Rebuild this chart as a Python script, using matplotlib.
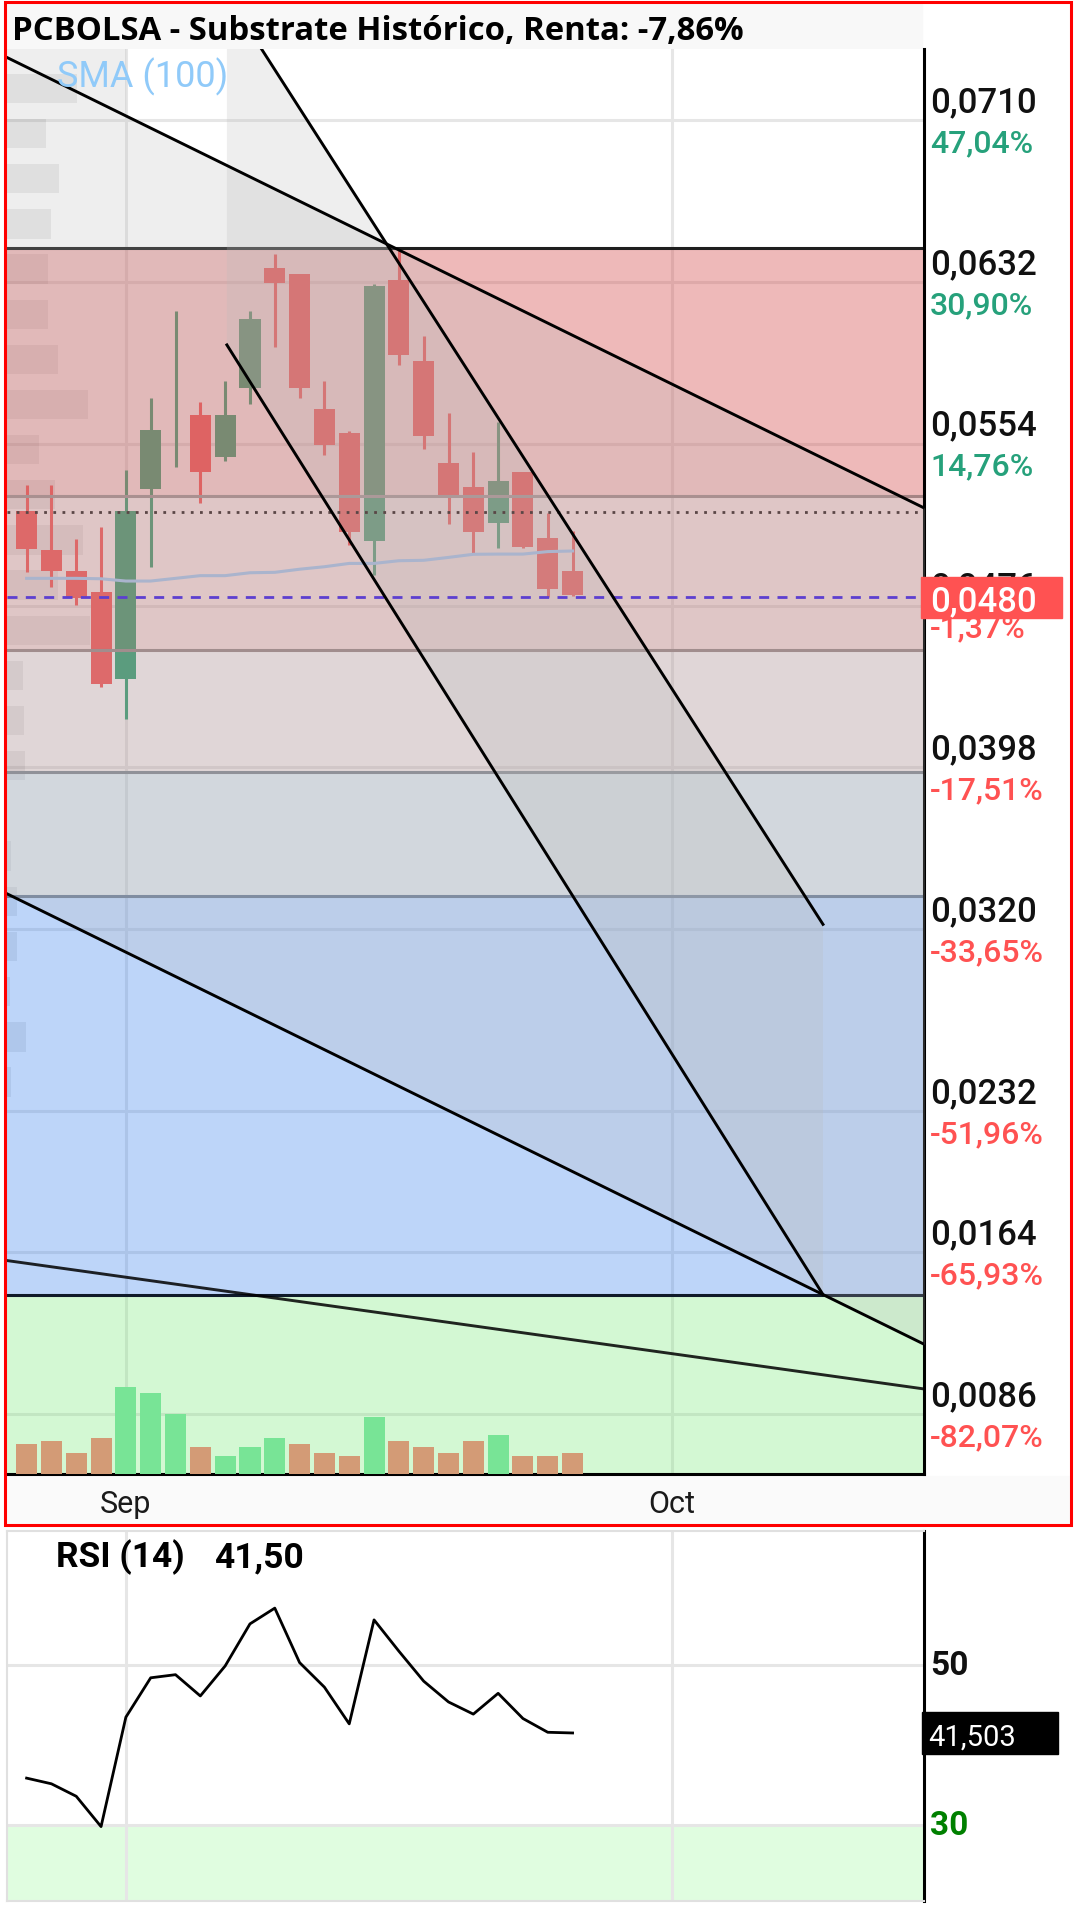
import matplotlib
matplotlib.use("Agg")
import matplotlib.pyplot as plt
import matplotlib.transforms as mtransforms
from matplotlib.patches import Rectangle
import numpy as np

W, H, DPI = 1076, 1907, 100

# ---------------- data ----------------
opens  = [0.05216, 0.05028, 0.04926, 0.04827, 0.04407, 0.05320, 0.05660, 0.05679,
          0.05478, 0.05811, 0.06390, 0.06361, 0.05708, 0.05592, 0.05073, 0.06330,
          0.05939, 0.05447, 0.05332, 0.05160, 0.05404, 0.05084, 0.04926]
highs  = [0.05341, 0.05341, 0.05079, 0.05140, 0.05414, 0.05759, 0.06181, 0.05743,
          0.05845, 0.06181, 0.06454, 0.06361, 0.05845, 0.05602, 0.06309, 0.06475,
          0.06062, 0.05687, 0.05499, 0.05644, 0.05404, 0.05208, 0.05119]
lows   = [0.04920, 0.04848, 0.04762, 0.04369, 0.04211, 0.04947, 0.05427, 0.05253,
          0.05457, 0.05730, 0.06005, 0.05759, 0.05484, 0.05052, 0.04907, 0.05920,
          0.05515, 0.05152, 0.05012, 0.05036, 0.05039, 0.04803, 0.04806]
closes = [0.05031, 0.04928, 0.04798, 0.04380, 0.05216, 0.05607, 0.05660, 0.05406,
          0.05679, 0.06142, 0.06317, 0.05811, 0.05534, 0.05116, 0.06301, 0.05968,
          0.05579, 0.05290, 0.05116, 0.05361, 0.05044, 0.04841, 0.04811]
volumes = [30, 33, 21, 36, 87, 81, 60, 27, 18, 27, 36, 30, 21, 18, 57, 33,
           27, 21, 33, 39, 18, 18, 21]
sma100 = [0.04891, 0.04891, 0.04891, 0.04889, 0.04878, 0.04878, 0.04891, 0.04904,
          0.04904, 0.04918, 0.04920, 0.04935, 0.04947, 0.04963, 0.04963, 0.04976,
          0.04978, 0.04992, 0.05007, 0.05008, 0.05008, 0.05020, 0.05023]
rsi14 = [35.86, 35.15, 33.59, 29.80, 43.48, 48.40, 48.79, 46.13, 49.88, 55.14,
         57.11, 50.30, 47.23, 42.64, 55.64, 51.73, 47.98, 45.38, 43.86, 46.46,
         43.31, 41.59, 41.503]

# visible range volume profile (rows)
profile_prices = [0.07254, 0.07036, 0.06819, 0.06601, 0.06383, 0.06165, 0.05947,
                  0.05729, 0.05512, 0.05294, 0.05076, 0.04858, 0.04640, 0.04422,
                  0.04204, 0.03987, 0.03769, 0.03551, 0.03333, 0.03115, 0.02897,
                  0.02679, 0.02462]
profile_vol = [70, 39, 52, 44, 41, 41, 51, 81, 32, 48, 76, 51, 83, 16, 17, 18,
               0, 4, 10, 10, 3, 19, 4]

# price axis
grid_prices = [0.0710, 0.0632, 0.0554, 0.0476, 0.0398, 0.0320, 0.0232, 0.0164, 0.0086]
pct_labels = ["47,04%", "30,90%", "14,76%", "-1,37%", "-17,51%", "-33,65%",
              "-51,96%", "-65,93%", "-82,07%"]
last_price = 0.0480
month_pos = [4, 26]
month_labels = ["Sep", "Oct"]

# zones (price bands)
zone_bounds = [0.06483, 0.05288, 0.04543, 0.03956, 0.03358, 0.01435, 0.0]
level_dotted = 0.05212

# drawings (x in bar index, y in price)
line_a = [(-1, 0.074158), (37, 0.051814)]
line_d = [(-1, 0.033818), (37, 0.011474)]
line_e = [(-1, 0.016037), (37, 0.009668)]
line_b = [(8.07, 0.07705), (32.09, 0.03222)]
line_c = [(8.07, 0.06017), (32.09, 0.01436)]

# ---------------- figure ----------------
fig = plt.figure(figsize=(W / DPI, H / DPI), dpi=DPI)
fig.patch.set_facecolor("white")

ax = fig.add_axes([7 / W, 1 - 1474 / H, 917 / W, 1425 / H])
ax.set_xlim(-0.79, 36.16)
ax.set_ylim(0.005706, 0.074444)
ax.set_yticks(grid_prices)
ax.set_xticks(month_pos)
ax.tick_params(length=0, labelleft=False, labelbottom=False)
ax.grid(True, color="#e6e6e6", lw=2.2)
ax.set_axisbelow(True)
for s in ["left", "top"]:
    ax.spines[s].set_visible(False)
for s in ["right", "bottom"]:
    ax.spines[s].set_color("black")
    ax.spines[s].set_linewidth(2.2)

x = np.arange(len(closes))
o = np.array(opens); c = np.array(closes)
up = c >= o
red, green = "#fa5050", "#28a06e"
ccol = [green if u else red for u in up]

# volume profile
x0 = ax.get_xlim()[0]
prof_w = np.array(profile_vol) / max(profile_vol) * 3.34
ax.barh(profile_prices, prof_w, left=x0, height=0.001418, color=(0, 0, 0, 0.08),
        lw=0, zorder=0.8)

# candles
ax.vlines(x, lows, highs, colors=ccol, lw=2.2, zorder=1)
ax.bar(x, np.abs(c - o), bottom=np.minimum(o, c), width=0.85, color=ccol, lw=0, zorder=1)

# zones
zone_cols = [((209, 66, 66), 0.37), ((192, 85, 85), 0.30), ((165, 100, 105), 0.20),
             ((135, 158, 185), 0.30), ((38, 118, 238), 0.30), ((112, 232, 112), 0.30)]
for i, (col, a) in enumerate(zone_cols):
    ax.axhspan(zone_bounds[i + 1], zone_bounds[i], color=np.array(col) / 255, alpha=a,
               lw=0, zorder=2)
zone_line_cols = ["#1e1e1e", "#a58484", "#9a8080", "#84868f", "#70819a", "#0f1a2a"]
for yv, lc in zip(zone_bounds[:-1], zone_line_cols):
    ax.axhline(yv, color=lc, lw=2.2, zorder=2.5)

# gray drawing backgrounds
ov = dict(color="#b9b9b9", alpha=0.23, lw=0, zorder=3)
xa = np.array([p[0] for p in line_a])
ya = np.array([p[1] for p in line_a])
yd = np.array([p[1] for p in line_d])
ax.fill_between(xa, yd, ya, **ov)
xs = np.array([-1, 4])
ax.fill_between(xs, np.interp(xs, xa, ya), 0.08, **ov)
ax.fill([line_b[0][0], line_b[1][0], line_c[1][0], line_c[0][0]],
        [line_b[0][1], line_b[1][1], line_c[1][1], line_c[0][1]], **ov)

# SMA
ax.plot(x, sma100, color="#aab4cd", lw=2.2, zorder=3.5)

# horizontal levels
ax.axhline(level_dotted, color="#5a4646", lw=2.0, dashes=(1, 2.3), zorder=4)
ax.axhline(last_price, color="#5c3fd0", lw=2.0, dashes=(3.6, 3.0), zorder=4)

# trend lines
for ln in [line_a, line_d, line_b, line_c]:
    ax.plot([p[0] for p in ln], [p[1] for p in ln], color="black", lw=2.1, zorder=5)
ax.plot([p[0] for p in line_e], [p[1] for p in line_e], color="black", alpha=0.85,
        lw=2.1, zorder=5)

# volume
vax = ax.twinx()
vax.set_ylim(0, max(volumes) * 1425 / 87.3)
vax.set_xlim(ax.get_xlim())
vcol = ["#d39b76"] + ["#78e496" if closes[i] >= closes[i - 1] else "#d39b76"
                      for i in range(1, len(closes))]
vax.bar(x, volumes, width=0.85, color=vcol, lw=0)
vax.axis("off")

# price axis labels
tp = mtransforms.blended_transform_factory(ax.transAxes, ax.transData)
lab = dict(xycoords=tp, textcoords="offset points", ha="left", va="baseline",
           family="Roboto", annotation_clip=False)
for p, pct in zip(grid_prices, pct_labels):
    ax.annotate(f"{p:.4f}".replace(".", ","), xy=(1, p), xytext=(4.3, 5.8),
                fontsize=25, fontweight="medium", color="#111111", zorder=6, **lab)
    pc = "#ff5252" if pct.startswith("-") else "#26a17b"
    ax.annotate(pct, xy=(1, p), xytext=(4.3, -23), fontsize=23, fontweight="medium",
                color=pc, zorder=6, **lab)
ax.add_patch(Rectangle((0.9967, last_price - 0.000989), 0.1538, 0.001978, transform=tp,
                       clip_on=False, color="#ff5252", zorder=7))
ax.annotate(f"{last_price:.4f}".replace(".", ","), xy=(1, last_price), xytext=(4.3, -10),
            fontsize=25, fontweight="medium", color="white", zorder=8, **lab)

# month labels
tm = mtransforms.blended_transform_factory(ax.transData, ax.transAxes)
for mp, ml in zip(month_pos, month_labels):
    ax.annotate(ml, xy=(mp, 0), xycoords=tm, xytext=(0, -27.9), textcoords="offset points",
                ha="center", va="baseline", fontsize=22, family="Roboto", color="#1a1a1a",
                annotation_clip=False, zorder=6)

# title bar and legend
fig.patches.append(Rectangle((7 / W, 1 - 49 / H), 915 / W, 45 / H, transform=fig.transFigure,
                             color="#f8f8f8", zorder=-1))
fig.text(11.5 / W, 1 - 40 / H, "PCBOLSA - Substrate Histórico, Renta: -7,86%",
         family="Open Sans", fontweight="bold", fontsize=23.7, color="black", va="baseline")
fig.text(56.6 / W, 1 - 87.3 / H, "SMA (100)", family="Roboto", fontsize=26,
         color="#90caf9", va="baseline")
fig.patches.append(Rectangle((7 / W, 1 - 1523 / H), 1062 / W, 47 / H, transform=fig.transFigure,
                             color="#fafafa", zorder=-1))
fig.patches.append(Rectangle((5 / W, 1 - 1525 / H), 1066 / W, 1523 / H, transform=fig.transFigure,
                             fill=False, ec="#ff0000", lw=2.2, zorder=5))

# ---------------- RSI ----------------
rax = fig.add_axes([7 / W, 1 - 1901 / H, 917 / W, 370 / H])
rax.set_xlim(ax.get_xlim())
rax.set_ylim(20.5, 66.75)
rax.set_yticks([30, 50])
rax.set_xticks(month_pos)
rax.tick_params(length=0, labelleft=False, labelbottom=False)
rax.grid(True, color="#e6e6e6", lw=2.2)
rax.set_axisbelow(True)
rax.axhspan(0, 30, color="#e0fde0", lw=0, zorder=0.2)
for s in ["left", "top", "bottom"]:
    rax.spines[s].set_color("#e0e0e0")
    rax.spines[s].set_linewidth(1.5)
rax.spines["right"].set_color("black")
rax.spines["right"].set_linewidth(2.2)
rax.plot(x, rsi14, color="black", lw=2.0)

tr = mtransforms.blended_transform_factory(rax.transAxes, rax.transData)
rlab = dict(xycoords=tr, textcoords="offset points", ha="left", va="baseline",
            family="Roboto", fontweight="bold", fontsize=24, annotation_clip=False)
rax.annotate("50", xy=(1, 50), xytext=(4.3, -7.2), color="#111111", **rlab)
rax.annotate("30", xy=(1, 30), xytext=(4.3, -7.2), color="#008000", **rlab)
rax.add_patch(Rectangle((0.9978, rsi14[-1] - 2.62), 0.1483, 5.25, transform=tr,
                        clip_on=False, color="black", zorder=7))
rax.annotate(f"{rsi14[-1]:.3f}".replace(".", ","), xy=(1, rsi14[-1]), xytext=(3, -9.4),
             textcoords="offset points", xycoords=tr, ha="left", va="baseline",
             family="Roboto", fontsize=21, color="white", zorder=8, annotation_clip=False)
fig.text(56 / W, 1 - 1567 / H, "RSI (14)", family="Roboto", fontweight="bold",
         fontsize=25.5, color="black", va="baseline")
fig.text(214 / W, 1 - 1567 / H, f"{rsi14[-1]:.2f}".replace(".", ","), family="Roboto",
         fontweight="bold", fontsize=25.5, color="black", va="baseline")

fig.savefig("out.png", dpi=DPI)
